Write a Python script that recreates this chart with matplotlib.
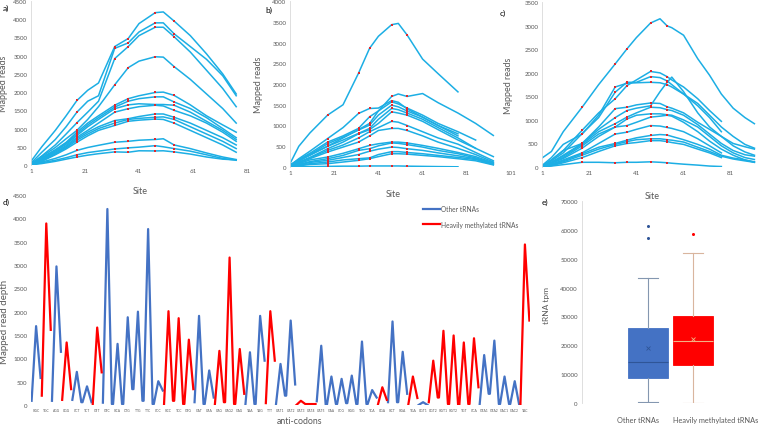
import matplotlib
matplotlib.use('Agg')
import matplotlib.pyplot as plt
import numpy as np

plt.rcParams['font.family'] = ['Lato', 'DejaVu Sans']

GREY = '#595959'
CYAN = '#1CAEE4'
MARK = '#E0282E'
BLUE = '#4472C4'
RED = '#FF0000'

# ---- panel a: reads per site ----
sites_a = [1, 5, 10, 14, 18, 22, 26, 32, 37, 41, 47, 50, 54, 60, 66, 72, 77]
curves_a = [
    [100, 500, 950, 1350, 1770, 2050, 2250, 3250, 3470, 3880, 4180, 4200, 3950, 3550, 3050, 2500, 1950],
    [50, 350, 700, 1050, 1450, 1750, 1900, 3200, 3350, 3650, 3900, 3900, 3600, 3250, 2900, 2450, 1900],
    [30, 250, 550, 850, 1160, 1450, 1750, 2920, 3250, 3550, 3780, 3780, 3520, 3100, 2600, 2100, 1600],
    [30, 230, 480, 720, 950, 1250, 1600, 2200, 2670, 2850, 2970, 2960, 2700, 2350, 1950, 1550, 1150],
    [20, 200, 420, 620, 900, 1150, 1350, 1640, 1820, 1900, 1990, 2000, 1910, 1650, 1350, 1100, 900],
    [20, 180, 400, 600, 850, 1100, 1300, 1590, 1750, 1820, 1870, 1870, 1730, 1550, 1300, 1000, 750],
    [20, 170, 380, 570, 810, 1050, 1250, 1545, 1650, 1680, 1660, 1660, 1640, 1450, 1200, 950, 700],
    [10, 150, 350, 530, 760, 950, 1150, 1450, 1545, 1600, 1640, 1620, 1500, 1350, 1150, 900, 650],
    [10, 130, 320, 500, 720, 900, 1050, 1220, 1270, 1330, 1400, 1400, 1310, 1150, 950, 750, 550],
    [10, 120, 300, 470, 680, 850, 1000, 1150, 1250, 1280, 1310, 1320, 1250, 1050, 850, 650, 450],
    [5, 100, 280, 440, 625, 800, 950, 1085, 1200, 1230, 1260, 1250, 1150, 950, 750, 550, 350],
    [5, 80, 180, 280, 400, 480, 540, 625, 650, 680, 700, 720, 550, 450, 330, 220, 150],
    [5, 60, 130, 200, 280, 340, 380, 440, 470, 490, 530, 500, 450, 380, 280, 180, 130],
    [5, 40, 100, 160, 220, 270, 310, 360, 350, 390, 386, 390, 360, 300, 220, 160, 140],
]
red_a = [18, 32, 37, 47, 54]

# ---- panel b ----
sites_b = [1, 5, 10, 18, 25, 32, 37, 41, 47, 50, 54, 61, 68, 77, 85, 93]
nan = np.nan
curves_b = [
    [80, 500, 820, 1250, 1500, 2260, 2860, 3150, 3430, 3460, 3180, 2600, 2250, 1810, nan, nan],
    [50, 150, 300, 500, 700, 900, 1050, 1350, 1700, 1760, 1700, 1770, 1550, 1300, 1050, 760],
    [40, 200, 380, 685, 950, 1290, 1410, 1420, 1600, 1560, 1400, 1200, 1000, 800, nan, nan],
    [40, 180, 330, 600, 750, 930, 1210, 1350, 1570, 1520, 1420, 1250, 1050, 850, 650, nan],
    [30, 160, 300, 560, 720, 890, 1010, 1250, 1490, 1450, 1350, 1200, 1000, 750, nan, nan],
    [30, 150, 280, 500, 650, 810, 930, 1150, 1410, 1380, 1300, 1150, 950, 700, 450, nan],
    [20, 120, 230, 440, 600, 800, 900, 1050, 1330, 1300, 1250, 1100, 900, 650, 450, 250],
    [20, 110, 220, 400, 530, 700, 850, 950, 1100, 1080, 1000, 850, 700, 550, 350, 150],
    [20, 100, 200, 360, 480, 600, 750, 880, 930, 930, 880, 750, 600, 450, 300, 120],
    [10, 80, 170, 240, 330, 440, 520, 560, 600, 600, 580, 520, 450, 350, 250, 100],
    [10, 60, 130, 200, 280, 400, 440, 510, 580, 570, 540, 480, 400, 320, 220, 90],
    [10, 50, 110, 160, 230, 300, 380, 430, 480, 470, 440, 400, 340, 270, 200, 80],
    [5, 40, 80, 120, 170, 200, 220, 300, 370, 370, 350, 320, 280, 230, 180, 60],
    [5, 30, 60, 80, 120, 160, 200, 250, 320, 320, 310, 280, 250, 200, 150, 50],
    [5, 5, 10, 15, 20, 20, 25, 25, 25, 25, 20, 15, 10, 5, nan, nan],
]
red_b = [18, 32, 37, 47, 54]

# ---- panel c ----
sites_c = [1, 5, 10, 18, 25, 32, 37, 41, 47, 51, 54, 56, 61, 67, 72, 77, 82, 87, 91]
curves_c = [
    [190, 330, 750, 1270, 1750, 2190, 2510, 2750, 3060, 3150, 3000, 2960, 2800, 2300, 1950, 1550, 1250, 1050, 920],
    [20, 150, 350, 780, 1150, 1450, 1730, 1850, 2030, 2000, 1920, 1850, 1700, 1450, 1200, 970, nan, nan, nan],
    [20, 130, 300, 710, 1050, 1590, 1800, 1800, 1920, 1900, 1830, 1750, 1550, 1300, 1050, 750, nan, nan, nan],
    [30, 200, 480, 700, 1100, 1700, 1780, 1790, 1800, 1790, 1750, 1700, 1550, 1350, 1100, 850, 650, 480, 400],
    [20, 150, 350, 500, 800, 1050, 1200, 1250, 1300, 1600, 1800, 1910, 1600, 1150, 850, 650, 450, 320, 250],
    [10, 100, 250, 500, 850, 1240, 1270, 1320, 1360, 1350, 1280, 1250, 1150, 950, 800, 650, 500, 430, 380],
    [10, 100, 230, 480, 750, 920, 1060, 1150, 1270, 1260, 1220, 1200, 1100, 900, 700, 500, 350, 260, 230],
    [10, 90, 200, 450, 700, 850, 1020, 1100, 1130, 1130, 1110, 1100, 1000, 850, 650, 450, 300, 200, 160],
    [10, 80, 180, 400, 650, 850, 880, 950, 1060, 1080, 1100, 1080, 950, 750, 550, 380, 250, 150, 100],
    [5, 60, 150, 300, 500, 700, 740, 800, 880, 870, 840, 820, 750, 600, 450, 300, nan, nan, nan],
    [5, 50, 130, 280, 420, 500, 570, 620, 670, 690, 680, 650, 580, 480, 380, 250, 190, 150, 110],
    [5, 40, 110, 250, 380, 480, 540, 580, 600, 600, 580, 570, 530, 420, 330, 230, 170, 130, 100],
    [5, 30, 90, 200, 330, 450, 500, 520, 560, 560, 540, 520, 480, 380, 300, 200, nan, nan, nan],
    [5, 20, 50, 100, 100, 90, 100, 100, 110, 100, 90, 80, 60, 40, 20, 10, nan, nan, nan],
]
red_c = [18, 32, 37, 47, 54]

# ---- panel d: read depth per anticodon ----
anticodons = ['GGC', 'TGC', 'AGG', 'CGG', 'CCT', 'TCT', 'GTT', 'GTC', 'GCA', 'CTG',
              'TTG', 'TTC', 'CCC', 'GCC', 'TCC', 'GTG', 'GAT', 'CAA', 'CAG', 'CAG2',
              'GAG', 'TAA', 'TAG', 'TTT', 'CAT1', 'CAT2', 'CAT3', 'CAT4', 'CAT5', 'GAA',
              'CCG', 'GGG', 'TGG', 'TCA', 'CGA', 'GCT', 'GGA', 'TGA', 'CGT1', 'CGT2',
              'GGT1', 'GGT2', 'TGT', 'CCA', 'GTA1', 'GTA2', 'GAC1', 'GAC2', 'TAC']
methylated = [0, 1, 0, 1, 0, 0, 1, 0, 0, 0,
              0, 0, 0, 1, 1, 1, 0, 0, 1, 1,
              1, 0, 0, 1, 0, 0, 1, 1, 0, 0,
              0, 0, 0, 0, 1, 0, 0, 1, 0, 1,
              1, 1, 1, 1, 0, 0, 0, 0, 1]
depth_start = [90, 200, 90, 110, 110, 60, 0, 50, 20, 20,
               340, 90, 20, 0, 90, 20, 60, 20, 20, 60,
               20, 20, 20, 40, 20, 200, 0, 20, 80, 0,
               20, 40, 20, 20, 0, 60, 60, 20, 0, 60,
               160, 20, 0, 20, 20, 240, 20, 20, 0]
depth_peak = [1690, 3890, 2970, 1340, 710, 400, 1660, 4200, 1310, 1880,
              2000, 3770, 510, 2010, 1860, 1400, 1910, 740, 1160, 3160,
              1200, 1130, 1910, 2010, 880, 1810, 90, 20, 1270, 610,
              560, 630, 1360, 320, 380, 1790, 1140, 610, 60, 950,
              1590, 1490, 1340, 1430, 1070, 1380, 610, 510, 3440]
depth_end = [580, 1610, 1140, 340, 60, 60, 700, 20, 20, 340,
             90, 20, 310, 90, 20, 340, 20, 160, 60, 20,
             240, 20, 950, 950, 200, 440, 20, 20, 0, 20,
             40, 20, 20, 160, 110, 60, 240, 150, 0, 160,
             20, 0, 20, 380, 240, 20, 20, 0, 1810]

# ---- panel e: tRNA tpm ----
groups = ['Other tRNAs', 'Heavily methylated tRNAs']
tpm_low = [500, 0]
tpm_q1 = [8500, 13300]
tpm_med = [14200, 21500]
tpm_mean = [19000, 22300]
tpm_q3 = [26000, 30000]
tpm_high = [43200, 52000]
tpm_outliers = [[57200, 61500], [58700]]

fig = plt.figure(figsize=(7.58, 4.27), dpi=100)
W, H = 758.0, 427.0


def px_axes(x0, y_top, x1, y_bot):
    ax = fig.add_axes([x0 / W, 1 - y_bot / H, (x1 - x0) / W, (y_bot - y_top) / H])
    ax.patch.set_alpha(0)
    return ax


def site_panel(ax, sites, curves, reds, xmax, ymax, xticks):
    idx = [sites.index(s) for s in reds]
    for c in curves:
        c = np.array(c, dtype=float)
        ax.plot(sites, c, color=CYAN, lw=1.1, zorder=2)
        ax.plot(np.array(sites)[idx], c[idx], ls='none', marker='s', ms=1.5,
                mew=0, color=MARK, zorder=3)
    ax.set_xlim(1, xmax)
    ax.set_ylim(0, ymax)
    ax.set_xticks(xticks)
    ax.set_yticks(np.arange(0, ymax + 1, 500))
    ax.tick_params(length=0, labelsize=4.4, colors=GREY, pad=2.5)
    for s in ['top', 'right', 'bottom']:
        ax.spines[s].set_visible(False)
    ax.spines['left'].set_color('#D9D9D9')
    ax.spines['left'].set_linewidth(0.6)


ax_a = px_axes(31, 2, 247, 166)
site_panel(ax_a, sites_a, curves_a, red_a, 81, 4500, [1, 21, 41, 61, 81])
ax_a.set_ylabel('Mapped reads', fontsize=6.5, color=GREY)
ax_a.yaxis.set_label_coords(-0.105, 0.5)
ax_a.set_xlabel('Site', fontsize=6.5, color=GREY)
ax_a.xaxis.set_label_coords(0.505, -0.13)

ax_b = px_axes(290, 2, 511, 168)
site_panel(ax_b, sites_b, curves_b, red_b, 101, 4000, [1, 21, 41, 61, 81, 101])
ax_b.set_ylabel('Mapped reads', fontsize=6.5, color=GREY)
ax_b.yaxis.set_label_coords(-0.122, 0.5)
ax_b.set_xlabel('Site', fontsize=6.5, color=GREY)
ax_b.xaxis.set_label_coords(0.466, -0.135)

ax_c = px_axes(542, 3.3, 778, 168)
site_panel(ax_c, sites_c, curves_c, red_c, 101, 3500, [1, 21, 41, 61, 81])
ax_c.set_ylabel('Mapped reads', fontsize=6.5, color=GREY)
ax_c.yaxis.set_label_coords(-0.123, 0.5)
ax_c.set_xlabel('Site', fontsize=6.5, color=GREY)
ax_c.xaxis.set_label_coords(0.466, -0.145)

# panel d
ax_d = px_axes(31, 196, 530, 406)
n = len(anticodons)
xs, blue_y, red_y = [], [], []
for k in range(n):
    for off, v in zip((-0.44, 0.0, 0.44), (depth_start[k], depth_peak[k], depth_end[k])):
        xs.append(k + off)
        blue_y.append(nan if methylated[k] else v)
        red_y.append(v if methylated[k] else nan)
ax_d.plot(xs, blue_y, color=BLUE, lw=1.6, label='Other tRNAs', solid_joinstyle='round')
ax_d.plot(xs, red_y, color=RED, lw=1.6, label='Heavily methylated tRNAs', solid_joinstyle='round')
ax_d.set_xlim(-0.5, n - 0.5)
ax_d.set_ylim(0, 4500)
ax_d.set_yticks(np.arange(0, 4501, 500))
ax_d.set_xticks(range(n))
ax_d.set_xticklabels(anticodons)
ax_d.tick_params(length=0, labelsize=4.4, colors=GREY, pad=2.5)
ax_d.tick_params(axis='x', labelsize=2.4, pad=2)
for s in ax_d.spines.values():
    s.set_visible(False)
ax_d.set_ylabel('Mapped read depth', fontsize=7, color=GREY)
ax_d.yaxis.set_label_coords(-0.044, 0.4)
ax_d.set_xlabel('anti-codons', fontsize=6.3, color=GREY, va='center')
ax_d.xaxis.set_label_coords(0.539, -0.075)
ax_d.legend(loc='upper left', bbox_to_anchor=(423 / W, 1 - 206 / H),
            bbox_transform=fig.transFigure, frameon=False, fontsize=4.8,
            handlelength=2.6, handletextpad=0.1, labelspacing=1.3,
            borderaxespad=0, borderpad=0, labelcolor=GREY)

# panel e
ax_e = px_axes(582, 202, 758, 404)
stats = []
for i in range(2):
    stats.append(dict(whislo=tpm_low[i], q1=tpm_q1[i], med=tpm_med[i], q3=tpm_q3[i],
                      whishi=tpm_high[i], mean=tpm_mean[i], fliers=tpm_outliers[i]))
box_face = [BLUE, RED]
whisk_col = ['#8497B0', '#D9B59E']
med_col = ['#2F5597', '#F4B183']
for i in range(2):
    ax_e.bxp([stats[i]], positions=[i + 1], widths=0.9, patch_artist=True,
             showmeans=True, showfliers=True,
             boxprops=dict(facecolor=box_face[i], edgecolor=box_face[i], lw=0.6),
             whiskerprops=dict(color=whisk_col[i], lw=0.8),
             capprops=dict(color=whisk_col[i], lw=0.8),
             medianprops=dict(color=med_col[i], lw=0.8),
             meanprops=dict(marker='x', markeredgecolor=med_col[i], markersize=3.5, mew=0.6),
             flierprops=dict(marker='o', markerfacecolor=med_col[i] if i == 0 else RED,
                             markeredgecolor='none', markersize=2.2))
ax_e.set_xlim(-0.467, 3.44)
ax_e.set_ylim(0, 70000)
ax_e.set_yticks(np.arange(0, 70001, 10000))
ax_e.set_xticks([])
ax_e.tick_params(length=0, labelsize=4.4, colors=GREY, pad=3)
for s in ['top', 'right', 'bottom']:
    ax_e.spines[s].set_visible(False)
ax_e.spines['left'].set_color('#D9D9D9')
ax_e.spines['left'].set_linewidth(0.6)
ax_e.set_ylabel('tRNA tpm', fontsize=6, color=GREY)
ax_e.yaxis.set_label_coords(-0.18, 0.49)
fig.text(638 / W, 1 - 421 / H, groups[0], fontsize=5.3, color=GREY, ha='center', va='center')
fig.text(716 / W, 1 - 421 / H, groups[1], fontsize=5.3, color=GREY, ha='center', va='center')

# panel letters
for lab, x, y in [('a)', 3, 8), ('b)', 265, 10), ('c)', 500, 13), ('d)', 3, 202), ('e)', 542, 202)]:
    fig.text(x / W, 1 - y / H, lab, fontsize=6, color='black', ha='left', va='center')

fig.savefig('out.png', dpi=100)
